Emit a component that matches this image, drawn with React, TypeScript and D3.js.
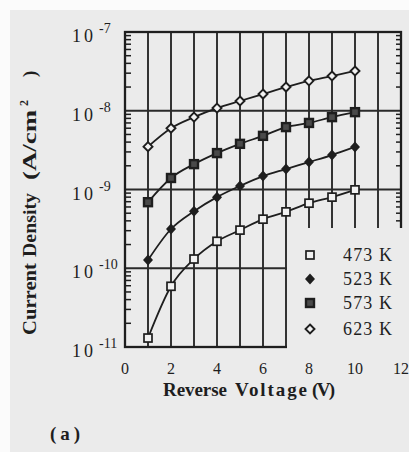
import React from "react";
import * as d3 from "d3";

const VOLTAGES = [1, 2, 3, 4, 5, 6, 7, 8, 9, 10];
const J_473 = [1.3e-11, 5.9e-11, 1.31e-10, 2.2e-10, 3.05e-10, 4.2e-10, 5.2e-10, 6.7e-10, 8.0e-10, 9.9e-10];
const J_523 = [1.27e-10, 3.15e-10, 5.3e-10, 8.0e-10, 1.11e-9, 1.48e-9, 1.82e-9, 2.23e-9, 2.74e-9, 3.47e-9];
const J_573 = [6.9e-10, 1.4e-9, 2.1e-9, 2.9e-9, 3.8e-9, 4.8e-9, 6.2e-9, 7.0e-9, 8.3e-9, 9.6e-9];
const J_623 = [3.5e-9, 6.0e-9, 8.3e-9, 1.08e-8, 1.33e-8, 1.63e-8, 2.0e-8, 2.4e-8, 2.76e-8, 3.2e-8];
const SERIES_LABELS = ["473 K", "523 K", "573 K", "623 K"];
const X_TICKS = [0, 2, 4, 6, 8, 10, 12];
const Y_EXPONENTS = [-7, -8, -9, -10, -11];
// axis titles, word by word: [word, offset along the axis, fitted width]
const X_TITLE: [string, number, number][] = [["Reverse", 0, 64], ["Voltage", 72, 72], ["(V)", 149, 23]];
const Y_TITLE: [string, number, number][] = [["Current", 0, 72], ["Density", 78, 64], ["(A/cm", 155, 70]];

const FONT = "'Liberation Serif', 'Times New Roman', serif";
const INK = "#1e1e1e";
const PAPER = "#ebebeb";

type Kind = "openSquare" | "filledDiamond" | "boldSquare" | "openDiamond";
const KINDS: Kind[] = ["openSquare", "filledDiamond", "boldSquare", "openDiamond"];

function Marker({ kind, x, y }: { kind: Kind; x: number; y: number }) {
  if (kind === "openSquare") {
    return <rect x={x - 4} y={y - 4} width={8} height={8} fill="#f2f2f2" stroke={INK} strokeWidth={1.7} />;
  }
  if (kind === "boldSquare") {
    return <rect x={x - 4} y={y - 4} width={8} height={8} fill="#4a4a4a" stroke={INK} strokeWidth={2.4} />;
  }
  if (kind === "filledDiamond") {
    return <path d={`M${x},${y - 5.5}L${x + 5},${y}L${x},${y + 5.5}L${x - 5},${y}Z`} fill={INK} />;
  }
  return (
    <path
      d={`M${x},${y - 4.5}L${x + 4.5},${y}L${x},${y + 4.5}L${x - 4.5},${y}Z`}
      fill="#f2f2f2"
      stroke={INK}
      strokeWidth={1.9}
    />
  );
}

export default function App() {
  const width = 409;
  const height = 452;
  const left = 125;
  const right = 401;
  const top = 32;
  const bottom = 347;

  const x = d3.scaleLinear().domain([0, 12]).range([left, right]);
  const y = d3.scaleLog().domain([1e-11, 1e-7]).range([bottom, top]);

  const series = [J_473, J_523, J_573, J_623];
  const line = d3
    .line<number>()
    .x((_, i) => x(VOLTAGES[i]))
    .y((d) => y(d))
    .curve(d3.curveMonotoneX);

  const minor: number[] = [];
  for (let e = -11; e < -7; e++) {
    for (let k = 2; k <= 9; k++) minor.push(k * Math.pow(10, e));
  }

  const gridX = d3.range(1, 12);
  const gridY = [1e-8, 1e-9, 1e-10];

  return (
    <svg width={width} height={height} style={{ position: "absolute", left: 0, top: 0 }}>
      <rect x={0} y={0} width={width} height={height} fill="#fbfbfb" />
      <rect x={10} y={10} width={width - 10} height={height - 10} fill={PAPER} />

      {gridX.map((v) => (
        <line key={`gx${v}`} x1={x(v)} x2={x(v)} y1={top} y2={bottom} stroke="#2a2a2a" strokeWidth={1.9} />
      ))}
      {gridY.map((v) => (
        <line key={`gy${v}`} x1={left} x2={right} y1={y(v)} y2={y(v)} stroke="#2a2a2a" strokeWidth={1.9} />
      ))}
      {minor.map((v, i) => (
        <g key={`m${i}`}>
          <line x1={left} x2={left + 6} y1={y(v)} y2={y(v)} stroke={INK} strokeWidth={1.5} />
          <line x1={right} x2={right - 5} y1={y(v)} y2={y(v)} stroke={INK} strokeWidth={1.5} />
        </g>
      ))}
      <rect x={left} y={top} width={right - left} height={bottom - top} fill="none" stroke={INK} strokeWidth={2.3} />

      {series.map((s, i) => (
        <path key={`l${i}`} d={line(s) || ""} fill="none" stroke={INK} strokeWidth={1.8} />
      ))}
      {series.map((s, i) =>
        s.map((v, j) => <Marker key={`p${i}-${j}`} kind={KINDS[i]} x={x(VOLTAGES[j])} y={y(v)} />)
      )}

      {/* legend sits on a blank patch over the lower-right grid */}
      <rect x={287} y={228} width={width - 287} height={bottom - 228 + 4} fill={PAPER} />
      {SERIES_LABELS.map((label, i) => {
        const ly = [255, 279, 303, 329][i];
        return (
          <g key={label}>
            <Marker kind={KINDS[i]} x={310} y={ly} />
            <text
              x={343}
              y={ly + 6}
              fontFamily={FONT}
              fontSize={18}
              fill={INK}
              textLength={49}
              lengthAdjust="spacing"
            >
              {label}
            </text>
          </g>
        );
      })}

      {X_TICKS.map((t) => (
        <text key={`xt${t}`} x={x(t)} y={374} textAnchor="middle" fontFamily={FONT} fontSize={16} fill={INK}>
          {t}
        </text>
      ))}
      {Y_EXPONENTS.map((e) => (
        <g key={`yt${e}`}>
          <text
            x={72}
            y={y(Math.pow(10, e)) + 10}
            fontFamily={FONT}
            fontSize={18}
            fill={INK}
            textLength={21}
            lengthAdjust="spacing"
          >
            10
          </text>
          <text x={99} y={y(Math.pow(10, e)) + 1} fontFamily={FONT} fontSize={14} fill={INK}>
            {e}
          </text>
        </g>
      ))}

      {X_TITLE.map(([word, off, len]) => (
        <text
          key={word}
          x={163 + off}
          y={396}
          fontFamily={FONT}
          fontWeight="bold"
          fontSize={19}
          fill={INK}
          textLength={len}
          lengthAdjust="spacing"
        >
          {word}
        </text>
      ))}
      <g transform="translate(36,335) rotate(-90)">
        {Y_TITLE.map(([word, off, len]) => (
          <text
            key={word}
            x={off}
            y={0}
            fontFamily={FONT}
            fontWeight="bold"
            fontSize={19}
            fill={INK}
            textLength={len}
            lengthAdjust="spacingAndGlyphs"
          >
            {word}
          </text>
        ))}
        <text x={229} y={-8} fontFamily={FONT} fontWeight="bold" fontSize={12} fill={INK}>
          2
        </text>
        <text x={258} y={0} fontFamily={FONT} fontWeight="bold" fontSize={19} fill={INK}>
          )
        </text>
      </g>
      <text
        x={50}
        y={440}
        fontFamily={FONT}
        fontWeight="bold"
        fontSize={19}
        fill={INK}
        textLength={30}
        lengthAdjust="spacing"
      >
        (a)
      </text>
    </svg>
  );
}
